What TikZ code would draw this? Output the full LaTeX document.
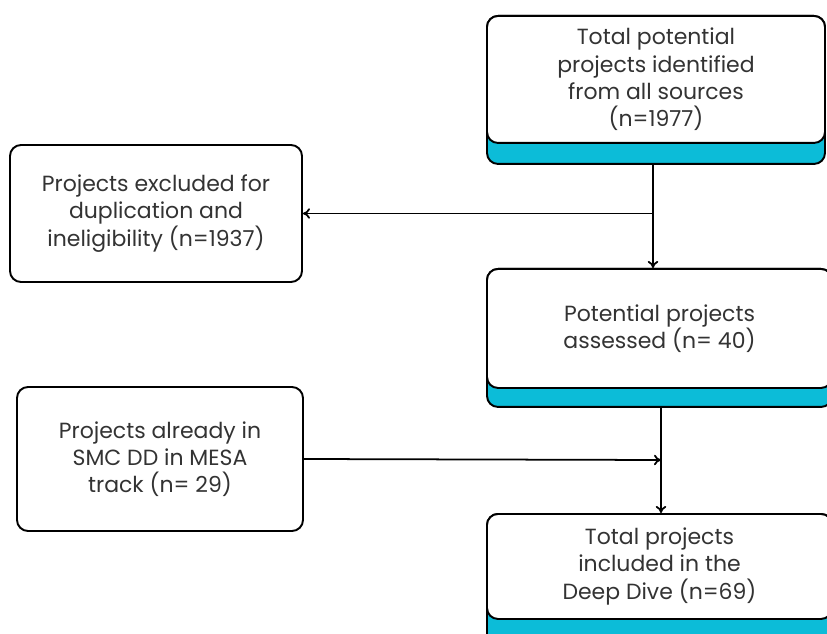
\documentclass[tikz,border=0pt]{standalone}
\usepackage{fontspec}
\setmainfont{Poppins}
\usetikzlibrary{arrows.meta}
\definecolor{stepblue}{RGB}{12,188,216}
\definecolor{steptext}{RGB}{51,51,51}
\tikzset{
    stepbox/.style={draw, rounded corners=0.22cm, line width=1.1pt, fill=white, align=center,
        text=steptext, font=\fontsize{12.5}{15.5}\selectfont, inner sep=0pt},
    basebox/.style={draw, rounded corners=0.22cm, line width=1.1pt, fill=stepblue},
    flow/.style={line width=1pt, -{To[length=4pt,width=6pt]}}
}
% name, x, top, width, white height, blue height, text
\NewDocumentCommand{\drawstepbox}{m m m m m m m}{
    \node[basebox, minimum width=#4cm, minimum height=#6cm, anchor=north] (#1-base) at (#2,#3) {};
    \node[stepbox, minimum width=#4cm, minimum height=#5cm, anchor=north] (#1) at (#2,#3) {#7};
}
\begin{document}
\begin{tikzpicture}
        \clip (0,0) rectangle (16.54,-12.68);

        \def\x{13.12}
        \drawstepbox{total}{\x}{-0.3}{6.76}{2.54}{2.96}{Total potential\\projects identified\\from all sources\\(n=1977)}
        \def\x{13.19}
        \drawstepbox{assessed}{\x}{-5.36}{6.9}{2.38}{2.76}{Potential projects\\assessed (n= 40)}
        \drawstepbox{included}{\x}{-10.26}{6.9}{2.1}{2.8}{Total projects\\included in the\\Deep Dive (n=69)}

        \node[stepbox, minimum width=5.84cm, minimum height=2.74cm] (excluded) at (3.12,-4.27)
            {Projects excluded for\\duplication and\\ineligibility (n=1937)};
        \node[stepbox, minimum width=5.72cm, minimum height=2.88cm] (mesa) at (3.2,-9.18)
            {Projects already in\\SMC DD in MESA\\track (n= 29)};

        \coordinate (j1) at (13.06,-4.27);
        \coordinate (j2) at (13.22,-9.2);
        \draw[flow] (total-base.south -| j1) -- (assessed.north -| j1);
        \draw[flow] (j1) -- (excluded.east);
        \draw[flow] (assessed-base.south -| j2) -- (included.north -| j2);
        \draw[flow] (mesa.east) -- (j2);
    \end{tikzpicture}
\end{document}
